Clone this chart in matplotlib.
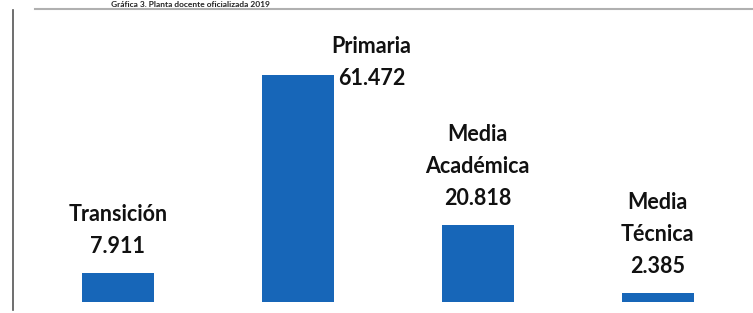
import matplotlib
matplotlib.use("Agg")
import matplotlib.pyplot as plt
from matplotlib.lines import Line2D

# datos
niveles = ["Transición", "Primaria", "Media\nAcadémica", "Media\nTécnica"]
docentes = [7911, 61472, 20818, 2385]
etiquetas = ["7.911", "61.472", "20.818", "2.385"]

W, H = 753, 313
fig = plt.figure(figsize=(W / 100, H / 100), dpi=100)
plt.rcParams["font.family"] = ["Lato", "DejaVu Sans"]

# ejes en pixeles: izquierda 12, abajo 302, arriba 9
ax = fig.add_axes([12 / W, (H - 302) / H, 1 - 12 / W, (302 - 9) / H])
x = list(range(len(niveles)))
ax.bar(x, docentes, width=0.4, color="#1766b8")
ax.set_xlim(-0.589, 3.53)
ax.set_ylim(0, 79300)
ax.axis("off")

color_txt = "#111111"
fs = 15.5
for i, (n, v, e) in enumerate(zip(niveles, docentes, etiquetas)):
    if i == 1:
        # primaria: etiqueta a la derecha de la barra
        ax.text(i + 0.41, v + 7600, n, ha="center", va="center",
                fontsize=fs, fontweight="bold", color=color_txt)
        ax.text(i + 0.41, v - 900, e, ha="center", va="center",
                fontsize=fs, fontweight="bold", color=color_txt)
    else:
        lineas = n.split("\n") + [e]
        for k, t in enumerate(reversed(lineas)):
            ax.text(i, v + 7100 + k * 8700, t, ha="center", va="center",
                    fontsize=fs, fontweight="bold", color=color_txt)

# linea izquierda y linea superior
fig.add_artist(Line2D([12.5 / W, 12.5 / W], [(H - 310) / H, (H - 10) / H],
                      color="#555555", lw=1.2))
fig.add_artist(Line2D([35 / W, 1], [(H - 9) / H, (H - 9) / H],
                      color="#b0b0b0", lw=1.5))

# titulo (cortado en el original)
fig.text(0.147, 1 - 1 / H, "Gráfica 3. Planta docente oficializada 2019",
         ha="left", va="top", fontsize=6, fontweight="bold",
         color="#222222")

fig.savefig("out.png", dpi=100)
